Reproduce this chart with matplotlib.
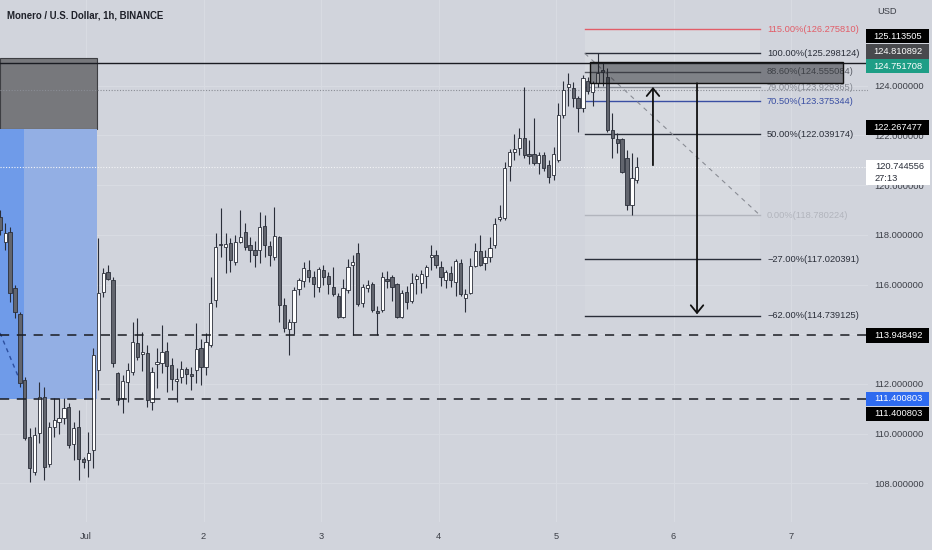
import numpy as np
import matplotlib
matplotlib.use('Agg')
import matplotlib.pyplot as plt
from matplotlib.patches import Rectangle

plt.rcParams['font.family'] = ['Liberation Sans', 'DejaVu Sans']

# hourly candles XMR/USD
opens = [118.72, 117.70, 118.12, 115.86, 114.81, 112.16, 109.88, 108.47, 110.01, 111.49,
         108.78, 110.27, 110.46, 110.62, 111.07, 109.58, 110.25, 108.98, 108.94, 109.34,
         112.56, 115.71, 116.51, 116.18, 112.45, 111.42, 112.09, 112.49, 113.63, 113.20,
         113.23, 111.28, 112.80, 112.83, 113.32, 112.76, 112.10, 112.29, 112.60, 112.37,
         112.56, 113.43, 112.67, 113.57, 115.38, 117.65, 117.52, 117.66, 116.92, 117.72,
         118.10, 117.60, 117.40, 117.39, 118.37, 117.55, 117.12, 117.92, 115.18, 114.20,
         114.50, 115.81, 116.15, 116.60, 116.29, 115.89, 116.60, 116.35, 115.91, 115.54,
         114.70, 115.78, 116.80, 117.25, 115.24, 115.85, 116.02, 114.95, 114.97, 116.20,
         116.29, 116.01, 114.70, 115.70, 115.35, 116.22, 116.05, 116.35, 117.10, 117.20,
         116.70, 116.20, 116.45, 116.11, 116.88, 115.45, 115.65, 116.75, 117.35, 116.85,
         117.10, 117.59, 118.62, 118.66, 120.78, 121.35, 121.50, 121.90, 121.22, 121.24,
         120.90, 121.20, 120.81, 120.41, 121.00, 122.82, 123.95, 123.92, 123.49, 123.11,
         124.20, 123.76, 124.10, 124.62, 124.36, 122.22, 121.85, 121.85, 121.10, 119.20,
         120.20]
highs = [119.00, 118.47, 118.30, 116.00, 114.90, 112.29, 110.23, 110.28, 112.09, 111.89,
         110.48, 111.43, 111.43, 111.43, 111.22, 110.48, 110.95, 109.05, 110.08, 113.43,
         117.86, 116.65, 116.78, 116.30, 112.49, 112.36, 112.83, 114.50, 114.64, 114.10,
         113.57, 112.69, 113.45, 114.37, 113.70, 113.03, 112.63, 112.93, 112.70, 112.70,
         114.44, 113.80, 114.04, 116.31, 118.06, 119.07, 118.06, 117.86, 117.99, 119.00,
         118.46, 117.90, 117.75, 118.93, 118.80, 117.75, 119.13, 117.95, 115.44, 114.60,
         115.91, 116.25, 116.92, 117.00, 116.55, 116.69, 116.78, 116.50, 116.69, 115.65,
         116.21, 117.01, 117.20, 117.68, 116.02, 116.20, 116.12, 115.15, 116.52, 116.55,
         116.40, 116.05, 115.78, 115.95, 116.45, 116.42, 116.60, 116.78, 117.60, 117.40,
         116.95, 116.60, 116.75, 117.02, 117.02, 115.80, 117.05, 117.68, 117.99, 117.40,
         117.92, 118.66, 119.20, 120.94, 121.45, 122.04, 122.31, 123.96, 121.80, 122.69,
         121.35, 121.35, 121.00, 121.55, 123.29, 124.19, 124.50, 124.15, 123.60, 124.45,
         124.35, 124.20, 125.30, 124.95, 124.70, 122.90, 122.10, 121.90, 121.40, 121.28,
         121.14]
lows = [118.00, 117.38, 115.31, 114.65, 111.89, 109.74, 108.06, 108.33, 109.62, 108.13,
        108.67, 109.88, 110.00, 110.40, 109.42, 108.93, 108.13, 108.60, 108.27, 108.60,
        111.75, 115.51, 116.18, 112.69, 111.15, 110.84, 111.28, 112.36, 112.96, 112.50,
        111.08, 110.95, 111.85, 112.43, 111.69, 111.75, 111.28, 112.02, 112.00, 111.75,
        112.02, 111.95, 112.36, 113.50, 115.11, 117.12, 116.45, 116.52, 116.78, 117.66,
        117.39, 116.92, 116.72, 116.85, 117.10, 116.75, 117.00, 114.50, 114.10, 113.16,
        114.00, 115.58, 115.91, 116.10, 115.51, 115.71, 116.00, 115.60, 115.55, 114.64,
        114.64, 115.65, 113.97, 115.15, 115.10, 115.70, 114.90, 113.97, 114.90, 115.85,
        115.35, 114.64, 114.64, 115.00, 115.25, 115.60, 115.65, 115.85, 116.60, 116.65,
        115.92, 115.85, 115.90, 115.55, 115.55, 114.91, 115.60, 116.70, 116.75, 116.60,
        116.90, 117.48, 118.55, 118.60, 120.16, 121.00, 121.20, 121.10, 120.85, 120.80,
        120.45, 120.55, 120.07, 120.20, 120.95, 122.70, 123.20, 123.15, 122.12, 122.95,
        123.65, 123.20, 123.95, 124.00, 122.15, 121.08, 121.28, 120.50, 119.00, 118.78,
        120.10]
closes = [118.19, 118.06, 115.65, 114.91, 112.02, 109.82, 108.60, 109.94, 111.49, 108.67,
          110.27, 110.55, 110.62, 111.03, 109.54, 110.21, 108.96, 108.85, 109.23, 113.16,
          115.65, 116.47, 116.21, 112.83, 111.35, 112.13, 112.56, 113.70, 113.10, 113.30,
          111.35, 112.49, 112.90, 113.30, 112.73, 112.18, 112.20, 112.59, 112.40, 112.33,
          113.39, 112.67, 113.70, 115.24, 117.52, 117.58, 117.65, 116.99, 117.70, 117.90,
          117.50, 117.40, 117.20, 118.33, 117.59, 117.20, 117.95, 115.18, 114.24, 114.50,
          115.78, 116.18, 116.65, 116.30, 116.02, 116.61, 116.30, 116.02, 115.62, 114.70,
          115.85, 116.69, 116.90, 115.21, 115.91, 116.00, 114.97, 114.87, 116.29, 116.15,
          115.90, 114.68, 115.65, 115.30, 116.07, 116.35, 116.42, 116.69, 117.20, 116.80,
          116.30, 116.50, 116.20, 116.96, 115.62, 115.62, 116.75, 117.35, 116.80, 117.10,
          117.45, 118.42, 118.72, 120.68, 121.34, 121.45, 121.90, 121.20, 121.18, 120.88,
          121.20, 120.70, 120.34, 121.26, 122.82, 123.83, 124.05, 123.49, 123.09, 124.30,
          123.80, 124.10, 124.50, 124.55, 122.22, 121.88, 121.70, 120.54, 119.20, 120.27,
          120.74]
hours = np.arange(len(opens)) - 17.5   # hours after Jul 1 00:00

day_ticks = [0, 24, 48, 72, 96, 120, 144]
day_labels = ['Jul', '2', '3', '4', '5', '6', '7']
price_ticks = [108, 110, 112, 114, 116, 118, 120, 122, 124]

# fib extension drawn on the right
fib_pct = [115, 100, 88.6, 79, 70.5, 50, 0, -27, -62]
fib_price = [126.275810, 125.298124, 124.555084, 123.929365, 123.375344,
             122.039174, 118.780224, 117.020391, 114.739125]
fib_colors = ['#e25d68', '#2a2e39', '#5a5d66', '#868a93', '#3a4fa3',
              '#2a2e39', '#b2b5bd', '#2a2e39', '#2a2e39']
fib_x = [101.9, 137.7]

# zones / levels
zone_top, zone_mid, zone_bot = 125.113505, 122.267477, 111.400803
support = 113.948492
top_line = 124.93
dotted_line = 123.83
last_price = 120.744556
sell_zone = [102.9, 154.6, 124.10, 124.97]   # x0, x1, y0, y1
up_arrow = [115.8, 120.8, 123.95]            # x, from, to
down_arrow = [124.8, 124.10, 114.80]

# price-scale tags
tag_vals = [125.113505, 124.810892, 124.751708, 122.267477, 113.948492, 111.400803, 111.400803]
tag_colors = ['#000000', '#48494d', '#1e9e86', '#000000', '#000000', '#2e6bf0', '#000000']
tag_shift = [-22, -14, -1, -1.5, 0, 0, 15]   # px, to keep them from overlapping

bg = '#d1d4dc'
dark = '#2a2e39'
txt = '#3c3f47'

fig = plt.figure(figsize=(9.32, 5.5), dpi=100)
fig.patch.set_facecolor(bg)
ax = fig.add_axes([0, 28 / 550, 868 / 932, 522 / 550])
ax.set_facecolor(bg)
ax.set_xlim(-86 / 4.896, 782 / 4.896)
ax.set_ylim(106.443, 127.449)
ppu = 522 / (127.449 - 106.443)   # pixels per price unit
x0, x1 = ax.get_xlim()

for s in ax.spines.values():
    s.set_visible(False)
ax.grid(True, color='#d9dce3', lw=0.7, zorder=0)
ax.set_axisbelow(True)

# left zones
ax.add_patch(Rectangle((x0, zone_mid), 2.25 - x0, zone_top - zone_mid,
                       fc='#77787c', ec='#3d3e42', lw=0.8, zorder=1))
ax.add_patch(Rectangle((x0, zone_bot), 2.25 - x0, zone_mid - zone_bot,
                       fc='#93afe4', ec='none', zorder=1))
ax.add_patch(Rectangle((x0, zone_bot), -12.66 - x0, zone_mid - zone_bot,
                       fc='#6f9be9', ec='none', zorder=1))
ax.plot([x0, -13.1], [114.05, 111.95], color='#2d4f9e', lw=1, ls=(0, (3, 3)), zorder=2)

# fib shading, lines and labels
ax.add_patch(Rectangle((fib_x[0], fib_price[6]), fib_x[1] - fib_x[0], fib_price[0] - fib_price[6],
                       fc='white', alpha=0.14, ec='none', zorder=1))
ax.add_patch(Rectangle((fib_x[0], fib_price[-1]), fib_x[1] - fib_x[0], fib_price[6] - fib_price[-1],
                       fc='white', alpha=0.07, ec='none', zorder=1))
for p, v, c in zip(fib_pct, fib_price, fib_colors):
    ax.plot(fib_x, [v, v], color=c, lw=1, zorder=2)
    lab = f'{p:.2f}%({v:.6f})'.replace('-', '\u2212')
    ax.text(fib_x[1] + 1.4, v, lab, color=c, fontsize=6.7, va='center', ha='left', zorder=2)
ax.plot(fib_x, [fib_price[1], fib_price[6]], color='#8a8d95', lw=0.8, ls=(0, (4, 4)), zorder=2)

# full-width lines
ax.axhline(top_line, color='#1a1c22', lw=1, zorder=4)
ax.axhline(dotted_line, color='#8a8d95', lw=0.8, ls=(0, (1, 1.5)), zorder=2)
ax.axhline(last_price, color='#f4f5f7', lw=0.8, ls=(0, (1, 1.5)), zorder=2)
ax.axhline(support, color='#1a1c22', lw=1.1, ls=(0, (6, 5)), zorder=4)
ax.axhline(zone_bot, color='#1a1c22', lw=1.1, ls=(0, (6, 5)), zorder=4)

# candles
o = np.array(opens); h = np.array(highs); l = np.array(lows); c = np.array(closes)
up = c >= o
ax.vlines(hours, l, h, color=dark, lw=0.8, zorder=3)
body_lo = np.minimum(o, c)
body_h = np.maximum(np.abs(c - o), 0.06)
ax.bar(hours[up], body_h[up], bottom=body_lo[up], width=0.66,
       color='white', edgecolor=dark, lw=0.6, zorder=3)
ax.bar(hours[~up], body_h[~up], bottom=body_lo[~up], width=0.66,
       color='#62656e', edgecolor=dark, lw=0.6, zorder=3)

# sell zone box
ax.add_patch(Rectangle((sell_zone[0], sell_zone[2]), sell_zone[1] - sell_zone[0],
                       sell_zone[3] - sell_zone[2], fc='#202226', alpha=0.48,
                       ec='none', zorder=5))
ax.add_patch(Rectangle((sell_zone[0], sell_zone[2]), sell_zone[1] - sell_zone[0],
                       sell_zone[3] - sell_zone[2], fc='none', ec='#111', lw=1, zorder=5))

# arrows
for a in (up_arrow, down_arrow):
    ax.annotate('', xy=(a[0], a[2]), xytext=(a[0], a[1]), zorder=6,
                arrowprops=dict(arrowstyle='->,head_length=0.55,head_width=0.45',
                                color='#111', lw=1.3, shrinkA=0, shrinkB=0))

# axes ticks
ax.yaxis.tick_right()
ax.set_yticks(price_ticks)
ax.set_yticklabels([f'{p:.6f}' for p in price_ticks])
ax.tick_params(axis='y', length=0, pad=4.5, labelsize=6.7, labelcolor=txt)
ax.set_xticks(day_ticks)
ax.set_xticklabels(day_labels)
ax.tick_params(axis='x', length=0, pad=7, labelsize=6.7, labelcolor=txt)

# price-scale tags
yax = ax.get_yaxis_transform()
tag_h = 14.5 / ppu
for v, col, sh in zip(tag_vals, tag_colors, tag_shift):
    yc = v - sh / ppu
    ax.add_patch(Rectangle((866 / 868, yc - tag_h / 2), 63 / 868, tag_h, transform=yax,
                           fc=col, ec='none', clip_on=False, zorder=10))
    ax.text(898 / 868, yc, f'{v:.6f}', transform=yax, ha='center', va='center',
            color='white', fontsize=6.7, clip_on=False, zorder=11)

# last price tag with countdown
top = last_price + 6.6 / ppu
ax.add_patch(Rectangle((866 / 868, top - 25 / ppu), 64 / 868, 25 / ppu, transform=yax,
                       fc='white', ec='none', clip_on=False, zorder=10))
ax.text(875 / 868, last_price, f'{last_price:.6f}', transform=yax, ha='left', va='center',
        color=dark, fontsize=6.7, clip_on=False, zorder=11)
ax.text(875 / 868, last_price - 11.6 / ppu, '27:13', transform=yax, ha='left', va='center',
        color=dark, fontsize=6.7, clip_on=False, zorder=11)

fig.text(877 / 932, 1 - 12 / 550, 'USD', fontsize=6.7, color=txt, va='center', ha='left')
fig.text(7 / 932, 1 - 15 / 550, 'Monero / U.S. Dollar, 1h, BINANCE', fontsize=6.9,
         fontweight='bold', color='#1e2029', va='center', ha='left')

fig.savefig('out.png', dpi=100, facecolor=bg)
